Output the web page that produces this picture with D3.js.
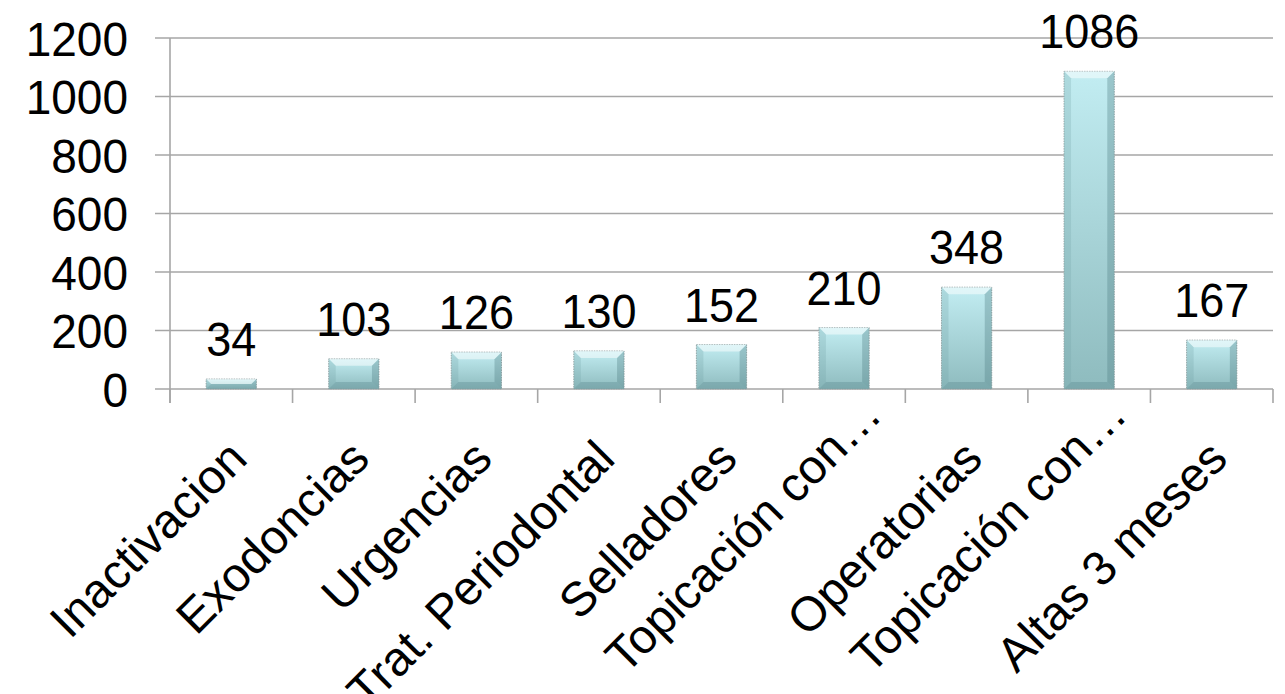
<!DOCTYPE html>
<html>
<head>
<meta charset="utf-8">
<script src="https://cdn.jsdelivr.net/npm/d3@7"></script>
<style>
  html, body { margin: 0; padding: 0; background: #fff; }
  svg { display: block; }
  text { font-family: "Liberation Sans", Arial, sans-serif; fill: #000; }
</style>
</head>
<body>
<svg id="chart" width="1285" height="694"></svg>
<script>
const categories = ["Inactivacion", "Exodoncias", "Urgencias", "Trat. Periodontal", "Selladores", "Topicación con…", "Operatorias", "Topicación con…", "Altas 3 meses"];
const values = [34, 103, 126, 130, 152, 210, 348, 1086, 167];
const yTicks = [0, 200, 400, 600, 800, 1000, 1200];

const svg = d3.select("#chart");
const pLeft = 170, pRight = 1273, pTop = 38, pBottom = 389;

const x = d3.scaleBand().domain(d3.range(categories.length)).range([pLeft, pRight]).paddingInner(0.59).paddingOuter(0.295);
const y = d3.scaleLinear().domain([0, 1200]).range([pBottom, pTop]);

const defs = svg.append("defs");
const gv = defs.append("linearGradient").attr("id", "gv").attr("x1", 0).attr("y1", 0).attr("x2", 0).attr("y2", 1);
gv.append("stop").attr("offset", "0%").attr("stop-color", "#c2edf2");
gv.append("stop").attr("offset", "100%").attr("stop-color", "#8ebbbe");

// gridlines
svg.append("g").selectAll("line").data(yTicks).join("line")
  .attr("x1", pLeft - 15).attr("x2", pRight)
  .attr("y1", d => y(d)).attr("y2", d => y(d))
  .attr("stroke", "#a6a6a6").attr("stroke-width", 1.6);

// y axis line
svg.append("line").attr("x1", pLeft).attr("x2", pLeft).attr("y1", pTop).attr("y2", pBottom + 14)
  .attr("stroke", "#a6a6a6").attr("stroke-width", 1.6);

// x category ticks
const bounds = d3.range(categories.length + 1).map(i => pLeft + i * x.step());
svg.append("g").selectAll("line").data(bounds).join("line")
  .attr("x1", d => d).attr("x2", d => d).attr("y1", pBottom).attr("y2", pBottom + 14)
  .attr("stroke", "#a6a6a6").attr("stroke-width", 1.6);

// y tick labels
svg.append("g").selectAll("text").data(yTicks).join("text")
  .attr("transform", d => `translate(128,${y(d)}) scale(1,1.06)`)
  .attr("dy", "0.36em")
  .attr("text-anchor", "end")
  .attr("font-size", 46)
  .text(d => d);

// bars
const bw = x.bandwidth();
const bars = svg.append("g").selectAll("g").data(values).join("g");
bars.append("rect")
  .attr("x", (d, i) => x(i)).attr("y", d => y(d))
  .attr("width", bw).attr("height", d => pBottom - y(d))
  .attr("fill", "url(#gv)")
  .attr("stroke", "#9aa9aa").attr("stroke-width", 1).attr("stroke-dasharray", "1.5,1");
const bev = 7;
bars.append("polygon")
  .attr("points", (d, i) => {
    const x0 = x(i), x1 = x(i) + bw, y0 = y(d), b = Math.min(bev, (pBottom - y(d)) / 2);
    return [[x0, y0], [x1, y0], [x1 - b, y0 + b], [x0 + b, y0 + b]].join(" ");
  })
  .attr("fill", "#ffffff").attr("opacity", 0.5);
bars.append("polygon")
  .attr("points", (d, i) => {
    const x0 = x(i), y0 = y(d), b = Math.min(bev, (pBottom - y(d)) / 2);
    return [[x0, y0], [x0 + b, y0 + b], [x0 + b, pBottom - b], [x0, pBottom]].join(" ");
  })
  .attr("fill", "#6f9fa3").attr("opacity", 0.25);
bars.append("polygon")
  .attr("points", (d, i) => {
    const x1 = x(i) + bw, y0 = y(d), b = Math.min(bev, (pBottom - y(d)) / 2);
    return [[x1, y0], [x1 - b, y0 + b], [x1 - b, pBottom - b], [x1, pBottom]].join(" ");
  })
  .attr("fill", "#4f7f83").attr("opacity", 0.35);
bars.append("polygon")
  .attr("points", (d, i) => {
    const x0 = x(i), x1 = x(i) + bw, b = Math.min(bev, (pBottom - y(d)) / 2);
    return [[x0, pBottom], [x1, pBottom], [x1 - b, pBottom - b], [x0 + b, pBottom - b]].join(" ");
  })
  .attr("fill", "#4f7f83").attr("opacity", 0.3);

// value labels
svg.append("g").selectAll("text").data(values).join("text")
  .attr("transform", (d, i) => `translate(${x(i) + bw / 2},${y(d) - 23}) scale(1,1.06)`)
  .attr("text-anchor", "middle")
  .attr("font-size", 45)
  .text(d => d);

// category labels (truncated labels sit further along, as in the original layout)
svg.append("g").selectAll("text").data(categories).join("text")
  .attr("transform", (d, i) => {
    const cx = x(i) + bw / 2;
    const trunc = d.endsWith("…");
    return trunc
      ? `translate(${cx + 40},${pBottom + 28}) rotate(-45)`
      : `translate(${cx + 18},${pBottom + 72}) rotate(-45)`;
  })
  .attr("text-anchor", "end")
  .attr("font-size", 48)
  .text(d => d);
</script>
</body>
</html>
